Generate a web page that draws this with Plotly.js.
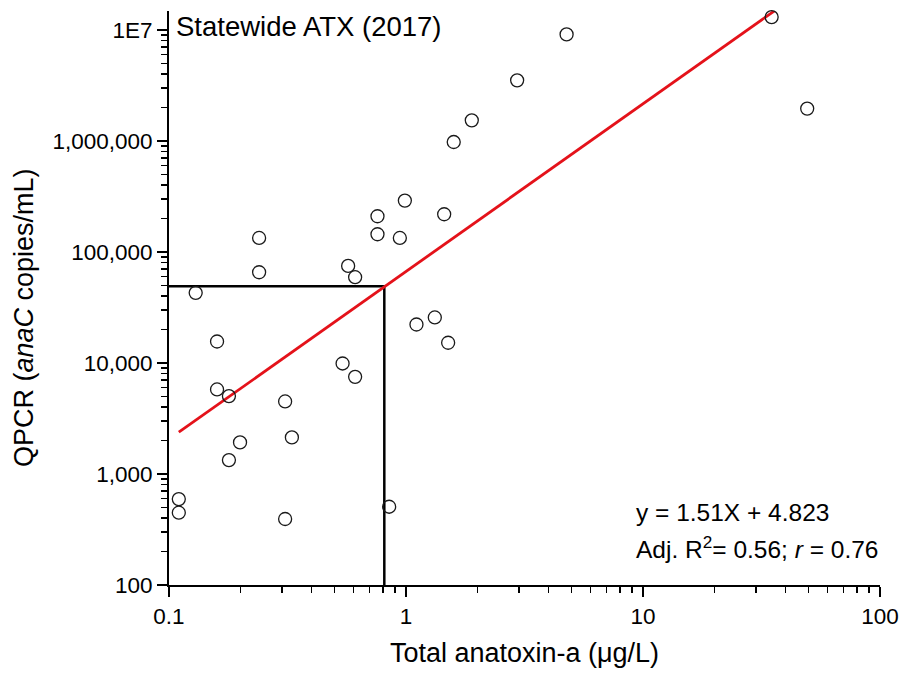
<!DOCTYPE html>
<html>
<head>
<meta charset="utf-8">
<script src="https://cdn.plot.ly/plotly-3.0.1.min.js"></script>
<style>
  html, body { margin: 0; padding: 0; background: #ffffff; }
  #chart { width: 902px; height: 673px; }
</style>
</head>
<body>
<div id="chart"></div>
<script>
// Total anatoxin-a (µg/L)
const atxValues = [
  0.240, 0.240, 0.1296, 0.570, 0.610, 0.758, 0.758, 0.942, 0.989, 1.449,
  1.59, 1.895, 2.944, 4.76, 34.9, 49.3,
  1.107, 1.323, 1.506, 0.1595, 0.540, 0.610, 0.1595, 0.179, 0.309, 0.1994,
  0.330, 0.179, 0.110, 0.110, 0.309, 0.849
];
// QPCR (anaC copies/mL)
const qpcrValues = [
  133600, 65600, 42800, 74800, 59200, 209600, 144300, 133600, 290000, 218500,
  977000, 1532000, 3510000, 9100000, 13040000, 1953000,
  22200, 25700, 15200, 15600, 9890, 7500, 5770, 5030, 4500, 1925,
  2135, 1334, 594, 448, 393, 507
];
// Regression line end points (y = 1.51X + 4.823 in log10 units)
const fitX = [0.11, 36];
const fitY = [2377, 14930000];
// Threshold box
const boxX = [0.1, 0.81, 0.81];
const boxY = [49000, 49000, 100];
// Axis ticks
const yTickVals = [100, 1000, 10000, 100000, 1000000, 10000000];
const yTickText = ['100', '1,000', '10,000', '100,000', '1,000,000', '1E7'];
const xTickVals = [0.1, 1, 10, 100];
const xTickText = ['0.1', '1', '10', '100'];

const FONT = '"Liberation Sans", Arial, sans-serif';

const traces = [
  {
    x: boxX, y: boxY, type: 'scatter', mode: 'lines',
    line: { color: '#000000', width: 2.5 },
    hoverinfo: 'skip', showlegend: false
  },
  {
    x: fitX, y: fitY, type: 'scatter', mode: 'lines',
    line: { color: '#e4121a', width: 2.8 },
    hoverinfo: 'skip', showlegend: false
  },
  {
    x: atxValues, y: qpcrValues, type: 'scatter', mode: 'markers',
    marker: { symbol: 'circle-open', size: 13, color: '#1a1a1a', line: { width: 1.3, color: '#1a1a1a' } },
    cliponaxis: false, showlegend: false
  }
];

const layout = {
  width: 902, height: 673,
  margin: { l: 169, r: 22, t: 11, b: 88, pad: 0 },
  paper_bgcolor: '#ffffff', plot_bgcolor: '#ffffff',
  font: { family: FONT, color: '#000000' },
  showlegend: false,
  xaxis: {
    type: 'log', range: [-1, 2],
    tickmode: 'array', tickvals: xTickVals, ticktext: xTickText,
    ticks: 'outside', ticklen: 10, tickwidth: 2, tickcolor: '#000',
    showline: true, linewidth: 2, linecolor: '#000', mirror: false,
    showgrid: false, zeroline: false,
    tickfont: { family: FONT, size: 22.5, color: '#000' },
    minor: { ticks: 'outside', ticklen: 6, tickwidth: 1.5, tickcolor: '#000', dtick: 'D1', showgrid: false },
    title: { text: 'Total anatoxin-a (μg/L)', font: { family: FONT, size: 27, color: '#000' }, standoff: 15 }
  },
  yaxis: {
    type: 'log', range: [2, 7.17],
    tickmode: 'array', tickvals: yTickVals, ticktext: yTickText,
    ticks: 'outside', ticklen: 10, tickwidth: 2, tickcolor: '#000',
    showline: true, linewidth: 2, linecolor: '#000', mirror: false,
    showgrid: false, zeroline: false,
    tickfont: { family: FONT, size: 22.5, color: '#000' },
    minor: { ticks: 'outside', ticklen: 6, tickwidth: 1.5, tickcolor: '#000', dtick: 'D1', showgrid: false }
  },
  annotations: [
    {
      text: 'QPCR (<i>anaC</i> copies/mL)', xref: 'paper', yref: 'paper',
      x: (24 - 169) / 711, y: (585 - 318) / 574, xanchor: 'center', yanchor: 'middle',
      textangle: -90, showarrow: false, font: { family: FONT, size: 27, color: '#000' }
    },
    {
      text: 'Statewide ATX (2017)', xref: 'paper', yref: 'paper',
      x: 0, y: (585 - 27) / 574, xanchor: 'left', yanchor: 'middle', xshift: 5,
      showarrow: false, font: { family: FONT, size: 27.5, color: '#000' }
    },
    {
      text: 'y = 1.51X + 4.823', xref: 'paper', yref: 'paper',
      x: (634 - 169) / 711, y: (585 - 512) / 574, xanchor: 'left', yanchor: 'middle',
      showarrow: false, font: { family: FONT, size: 24.5, color: '#000' }
    },
    {
      text: 'Adj. R<sup>2</sup>= 0.56; <i>r</i> = 0.76', xref: 'paper', yref: 'paper',
      x: (634 - 169) / 711, y: (585 - 547) / 574, xanchor: 'left', yanchor: 'middle',
      showarrow: false, font: { family: FONT, size: 24.5, color: '#000' }
    }
  ]
};

Plotly.newPlot('chart', traces, layout, { displayModeBar: false, staticPlot: true });
</script>
</body>
</html>
